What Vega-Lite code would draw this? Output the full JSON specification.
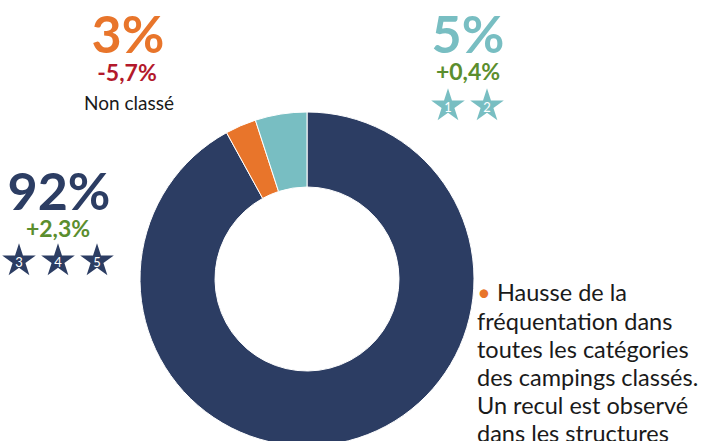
{
  "$schema": "https://vega.github.io/schema/vega-lite/v6.json",
  "width": 702,
  "height": 441,
  "autosize": {"type": "none"},
  "padding": 0,
  "background": "white",
  "config": {"view": {"stroke": null}, "font": "Lato"},
  "resolve": {"scale": {"x": "independent", "y": "independent", "color": "independent"}},
  "layer": [
    {
      "data": {"values": [
        {"categorie": "3 à 5 étoiles", "part": 92, "rang": 1},
        {"categorie": "Non classé", "part": 3, "rang": 2},
        {"categorie": "1 à 2 étoiles", "part": 5, "rang": 3}
      ]},
      "mark": {"type": "arc", "x": 307, "y": 279, "radius": 167, "radius2": 92, "stroke": "white", "strokeWidth": 1},
      "encoding": {
        "theta": {"field": "part", "type": "quantitative"},
        "order": {"field": "rang", "type": "quantitative"},
        "color": {"field": "categorie", "type": "nominal", "legend": null,
          "scale": {"domain": ["3 à 5 étoiles", "Non classé", "1 à 2 étoiles"], "range": ["#2C3D63", "#E8752B", "#78BEC2"]}}
      }
    },
    {"mark": {"type": "rule", "x": 217, "x2": 247, "y": 35, "y2": 35, "stroke": "#E8752B", "strokeWidth": 2.5}, "encoding": {}},
    {"mark": {"type": "rule", "x": 247, "x2": 247, "y": 35, "y2": 124, "stroke": "#E8752B", "strokeWidth": 2.5}, "encoding": {}},
    {"mark": {"type": "rule", "x": 290, "x2": 410, "y": 45, "y2": 45, "stroke": "#78BEC2", "strokeWidth": 2.5}, "encoding": {}},
    {"mark": {"type": "rule", "x": 290, "x2": 290, "y": 45, "y2": 114, "stroke": "#78BEC2", "strokeWidth": 2.5}, "encoding": {}},
    {"mark": {"type": "rule", "x": 128, "x2": 165, "y": 194, "y2": 194, "stroke": "#2C3D63", "strokeWidth": 2.5}, "encoding": {}},
    {
      "data": {"values": [{"t": "3%"}]},
      "mark": {"type": "text", "x": 128, "y": 53, "align": "center", "baseline": "alphabetic", "fontSize": 52, "fontWeight": "bold", "color": "#E8752B"},
      "encoding": {"text": {"field": "t"}}
    },
    {
      "data": {"values": [{"t": "-5,7%"}]},
      "mark": {"type": "text", "x": 127, "y": 81, "align": "center", "baseline": "alphabetic", "fontSize": 23, "fontWeight": "bold", "color": "#B3192B"},
      "encoding": {"text": {"field": "t"}}
    },
    {
      "data": {"values": [{"t": "Non classé"}]},
      "mark": {"type": "text", "x": 129, "y": 110, "align": "center", "baseline": "alphabetic", "fontSize": 19, "color": "#1a1a1a"},
      "encoding": {"text": {"field": "t"}}
    },
    {
      "data": {"values": [{"t": "5%"}]},
      "mark": {"type": "text", "x": 468, "y": 53, "align": "center", "baseline": "alphabetic", "fontSize": 52, "fontWeight": "bold", "color": "#78BEC2"},
      "encoding": {"text": {"field": "t"}}
    },
    {
      "data": {"values": [{"t": "+0,4%"}]},
      "mark": {"type": "text", "x": 468, "y": 80, "align": "center", "baseline": "alphabetic", "fontSize": 23, "fontWeight": "bold", "color": "#5B8E2E"},
      "encoding": {"text": {"field": "t"}}
    },
    {
      "data": {"values": [{"t": "92%"}]},
      "mark": {"type": "text", "x": 59, "y": 210, "align": "center", "baseline": "alphabetic", "fontSize": 52, "fontWeight": "bold", "color": "#2C3D63"},
      "encoding": {"text": {"field": "t"}}
    },
    {
      "data": {"values": [{"t": "+2,3%"}]},
      "mark": {"type": "text", "x": 58, "y": 237, "align": "center", "baseline": "alphabetic", "fontSize": 23, "fontWeight": "bold", "color": "#5B8E2E"},
      "encoding": {"text": {"field": "t"}}
    },
    {
      "data": {"values": [{"n": "1"}, {"n": "2"}]},
      "encoding": {
        "x": {"field": "n", "type": "ordinal", "axis": null, "scale": {"type": "point", "padding": 0, "domain": ["1", "2"], "range": [448, 487]}}
      },
      "layer": [
        {"mark": {"type": "point", "y": 106, "filled": true, "opacity": 1, "size": 1250, "color": "#78BEC2",
          "shape": "M0,-1L0.2245,-0.309L0.951,-0.309L0.363,0.118L0.588,0.809L0,0.382L-0.588,0.809L-0.363,0.118L-0.951,-0.309L-0.2245,-0.309Z"}},
        {"mark": {"type": "text", "y": 108, "align": "center", "baseline": "middle", "fontSize": 13, "color": "white"},
          "encoding": {"text": {"field": "n"}}}
      ]
    },
    {
      "data": {"values": [{"n": "3"}, {"n": "4"}, {"n": "5"}]},
      "encoding": {
        "x": {"field": "n", "type": "ordinal", "axis": null, "scale": {"type": "point", "padding": 0, "domain": ["3", "4", "5"], "range": [19, 97]}}
      },
      "layer": [
        {"mark": {"type": "point", "y": 261, "filled": true, "opacity": 1, "size": 1250, "color": "#2C3D63",
          "shape": "M0,-1L0.2245,-0.309L0.951,-0.309L0.363,0.118L0.588,0.809L0,0.382L-0.588,0.809L-0.363,0.118L-0.951,-0.309L-0.2245,-0.309Z"}},
        {"mark": {"type": "text", "y": 263, "align": "center", "baseline": "middle", "fontSize": 13, "color": "white"},
          "encoding": {"text": {"field": "n"}}}
      ]
    },
    {
      "data": {"values": [{"t": "•"}]},
      "mark": {"type": "text", "x": 484, "y": 301, "align": "center", "baseline": "alphabetic", "fontSize": 23, "color": "#E8752B"},
      "encoding": {"text": {"field": "t"}}
    },
    {
      "data": {"values": [{"t": "Hausse de la"}]},
      "mark": {"type": "text", "x": 497, "y": 301, "align": "left", "baseline": "alphabetic", "fontSize": 23.5, "color": "#1a1a1a"},
      "encoding": {"text": {"field": "t"}}
    },
    {
      "data": {"values": [{"t": ["fréquentation dans", "toutes les catégories", "des campings classés.", "Un recul est observé", "dans les structures"]}]},
      "mark": {"type": "text", "x": 477, "y": 330, "align": "left", "baseline": "alphabetic", "fontSize": 23.5, "lineHeight": 28, "color": "#1a1a1a"},
      "encoding": {"text": {"field": "t"}}
    }
  ]
}
